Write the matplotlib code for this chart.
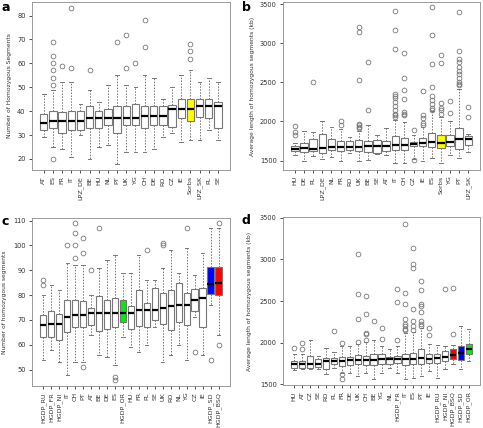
#!/usr/bin/env python3
# -*- coding: utf-8 -*-

import matplotlib
matplotlib.use('Agg')
import matplotlib.pyplot as plt

# ---- panel a: number of homozygous segments ----
a_names = ['AT', 'ES', 'FR', 'IT', 'LPZ_DE', 'BE', 'HU', 'NL', 'PT', 'UK',
           'YG', 'CH', 'DE', 'RO', 'CZ', 'IE', 'Sorbs', 'LPZ_SK', 'PL', 'SE']
a_lo = [29, 25, 24, 21, 30, 20, 25, 26, 18, 23, 23, 23, 24, 29, 31, 27, 28, 28, 32, 28]
a_q1 = [32, 33, 31, 32, 32, 33, 33, 34, 31, 34, 34, 33, 34, 34, 33.5, 37, 36, 37.5, 37, 33]
a_med = [35, 36, 36, 36, 36, 37, 37, 37, 37, 37, 37, 38, 38, 38, 41, 41, 41, 42, 42, 42]
a_q3 = [39, 40, 39.5, 40, 40, 42, 40, 41, 42, 42, 43, 42, 42, 42, 42.5, 45, 45, 45, 45, 44]
a_hi = [47, 49, 52, 52, 43, 49, 44, 51, 55, 51, 50, 55, 54, 45, 50, 55, 57, 52, 54, 52]
a_out = [[], [20, 51, 54, 57, 60, 63, 69], [59], [58, 83], [], [57], [], [], [69],
         [58, 72], [60], [67, 78], [], [], [], [], [62, 65, 68], [], [], []]

# ---- panel b: average length of homozygous segments (kb) ----
b_names = ['HU', 'DE', 'PL', 'LPZ_DE', 'NL', 'FR', 'RO', 'UK', 'BE', 'SE',
           'AT', 'IT', 'CH', 'CZ', 'IE', 'ES', 'Sorbs', 'YG', 'PT', 'LPZ_SK']
b_lo = [1570, 1500, 1560, 1520, 1540, 1490, 1600, 1490, 1510, 1580,
        1570, 1470, 1470, 1520, 1500, 1530, 1470, 1570, 1530, 1610]
b_q1 = [1620, 1610, 1620, 1590, 1630, 1620, 1630, 1620, 1610, 1590,
        1620, 1630, 1640, 1680, 1680, 1670, 1660, 1680, 1650, 1700]
b_med = [1650, 1660, 1650, 1660, 1670, 1670, 1670, 1670, 1680, 1680,
         1690, 1700, 1700, 1710, 1720, 1740, 1730, 1740, 1770, 1770]
b_q3 = [1690, 1730, 1770, 1840, 1770, 1750, 1750, 1760, 1750, 1760,
        1750, 1810, 1790, 1740, 1790, 1850, 1830, 1830, 1920, 1810]
b_hi = [1730, 1880, 1870, 2010, 1930, 1900, 1800, 1880, 1950, 1830,
        1920, 2020, 1990, 1830, 1930, 2130, 2060, 2000, 2420, 1840]
b_out = [[1830, 1860, 1940], [], [2510], [], [], [1950, 2000], [],
         [1910, 1930, 1950, 1970, 2530, 3140, 3210], [2140, 2760], [], [],
         [2060, 2080, 2100, 2150, 2200, 2250, 2300, 2330, 2350, 2920, 3170, 3410],
         [2080, 2100, 2120, 2290, 2400, 2550, 2870], [1510, 1890],
         [1960, 1980, 2050, 2080, 2390],
         [2150, 2170, 2220, 2280, 2330, 2440, 2740, 3110, 3460],
         [2100, 2140, 2170, 2240, 2750, 2850], [2110, 2260],
         [2460, 2480, 2500, 2550, 2600, 2650, 2700, 2760, 2800, 2900, 3400],
         [2060, 2190]]

# ---- panel c: number of homozygous segments, with HGDP ----
c_names = ['HGDP_RU', 'HGDP_FR', 'HGDP_NI', 'IT', 'CH', 'PT', 'AT', 'BE', 'DE',
           'ES', 'HGDP_OR', 'HU', 'FR', 'PL', 'SE', 'UK', 'RO', 'NL', 'YG', 'CZ',
           'IE', 'HGDP_SD', 'HGDP_BSQ']
c_lo = [54, 58, 53, 48, 53, 53, 64, 56, 55, 52, 63, 59, 57, 60, 67, 53, 56,
        60, 54, 71, 56, 76, 64]
c_q1 = [63, 63, 62, 65, 67, 67, 68, 65.5, 66.5, 67, 69, 66.5, 67.5, 67, 70,
        68.5, 66, 69, 68, 73.5, 67, 80.5, 80]
c_med = [68, 68.5, 68.5, 71, 72, 72, 73, 73, 73, 73, 73, 73, 74, 74, 74, 75,
         75.5, 76, 76, 78, 79, 84.5, 85]
c_q3 = [72, 73.5, 72.5, 78, 78, 77.5, 75, 79.5, 78, 79, 78, 75.5, 82, 77, 83,
        81, 82, 85, 81, 82.5, 83, 91.5, 91.5]
c_hi = [80, 84, 82, 93, 92, 92, 80, 91, 94, 96, 89, 89, 96, 86, 86, 91, 98,
        89, 99, 88, 97, 107, 107]
c_out = [[84, 86], [], [], [100], [95, 100, 105, 109], [51, 97, 103], [90],
         [107], [], [46, 47], [], [], [], [98], [], [100, 101], [], [], [107],
         [57], [], [54], [60, 109]]

# ---- panel d: average length (kb), with HGDP ----
d_names = ['HU', 'AT', 'CZ', 'SE', 'RO', 'PL', 'FR', 'DE', 'UK', 'CH', 'BE',
           'YG', 'NL', 'HGDP_FR', 'IT', 'ES', 'PT', 'IE', 'HGDP_RU', 'HGDP_NI',
           'HGDP_BSQ', 'HGDP_SD', 'HGDP_OR']
d_lo = [1670, 1680, 1680, 1680, 1630, 1700, 1640, 1640, 1600, 1640, 1560,
        1640, 1700, 1640, 1570, 1580, 1600, 1660, 1580, 1680, 1750, 1690, 1780]
d_q1 = [1700, 1700, 1700, 1710, 1680, 1740, 1720, 1730, 1740, 1730, 1730,
        1750, 1740, 1760, 1730, 1740, 1750, 1760, 1760, 1780, 1810, 1790, 1860]
d_med = [1740, 1740, 1750, 1750, 1780, 1780, 1780, 1790, 1790, 1790, 1790,
         1800, 1800, 1800, 1800, 1810, 1820, 1810, 1820, 1830, 1850, 1880, 1920]
d_q3 = [1780, 1780, 1840, 1800, 1820, 1820, 1830, 1830, 1850, 1840, 1860,
        1860, 1830, 1840, 1870, 1880, 1920, 1870, 1860, 1900, 1920, 1960, 1990]
d_hi = [1860, 1860, 2030, 1840, 1940, 1890, 1960, 1960, 1990, 2010, 2030,
        1960, 1930, 1960, 2120, 2130, 2180, 1990, 1970, 1960, 1970, 2200, 2160]
d_out = [[1940], [1930, 2000], [], [], [], [2140], [1570, 1620, 2000], [],
         [2010, 2290, 2580, 3070], [2030, 2100, 2120, 2340, 2560], [2260],
         [2040, 2180], [], [2030, 2490, 2640],
         [2150, 2170, 2200, 2220, 2280, 2470, 2600, 3420],
         [2150, 2200, 2260, 2410, 2900, 2940, 3140],
         [2200, 2220, 2260, 2370, 2440, 2460, 2630, 2740],
         [2090, 2180], [], [2640], [2110, 2660], [], []]

highlight = {'Sorbs': '#ffff00', 'HGDP_OR': '#00ee00',
             'HGDP_SD': '#0000ff', 'HGDP_BSQ': '#ff0000'}

GREY = '#777777'
TXT = '#333333'


def draw_panel(ax, names, lo, q1, med, q3, hi, out, ylim, yticks, ylabel, labx):
    stats = []
    for i in range(len(names)):
        stats.append(dict(whislo=lo[i], q1=q1[i], med=med[i], q3=q3[i],
                          whishi=hi[i], fliers=out[i], label=names[i]))
    pos = list(range(1, len(names) + 1))
    bp = ax.bxp(stats, positions=pos, widths=0.8, patch_artist=True,
                showfliers=True,
                boxprops=dict(edgecolor=GREY, linewidth=0.8),
                medianprops=dict(color='black', linewidth=1.6),
                whiskerprops=dict(color=GREY, linewidth=0.7, linestyle=(0, (1.5, 1.5))),
                capprops=dict(color=GREY, linewidth=0.7),
                flierprops=dict(marker='o', markersize=3.4, markerfacecolor='none',
                                markeredgecolor=GREY, markeredgewidth=0.6))
    for b, nm in zip(bp['boxes'], names):
        b.set_facecolor(highlight.get(nm, 'white'))
    for c in bp['caps']:
        x = c.get_xdata()
        mid = (x[0] + x[1]) / 2
        c.set_xdata([mid - 0.2, mid + 0.2])
    n = len(names)
    ax.set_xlim(0.5 - 0.04 * n, n + 0.5 + 0.04 * n)
    ax.set_ylim(*ylim)
    ax.set_yticks(yticks)
    ax.set_xticks(pos)
    ax.set_xticklabels(names, rotation=90, fontsize=4.6, color=TXT)
    ax.tick_params(axis='y', labelsize=4.8, colors=TXT, length=2.5, width=0.6, pad=2)
    ax.tick_params(axis='x', length=2.5, width=0.6, colors=TXT, pad=2)
    ax.set_ylabel(ylabel, fontsize=4.3, color=TXT)
    ax.yaxis.set_label_coords(labx, 0.5)
    for s in ax.spines.values():
        s.set_color('#999999')
        s.set_linewidth(0.7)


def main():
    fig = plt.figure(figsize=(4.83, 4.28), dpi=100)
    ax_a = fig.add_axes([0.066, 0.603, 0.410, 0.392])
    ax_b = fig.add_axes([0.586, 0.603, 0.408, 0.392])
    ax_c = fig.add_axes([0.066, 0.098, 0.410, 0.393])
    ax_d = fig.add_axes([0.586, 0.100, 0.408, 0.393])

    draw_panel(ax_a, a_names, a_lo, a_q1, a_med, a_q3, a_hi, a_out,
               (15.4, 85.6), range(20, 81, 10),
               'Number of Homozygous Segments', -0.10)
    draw_panel(ax_b, b_names, b_lo, b_q1, b_med, b_q3, b_hi, b_out,
               (1380, 3525), range(1500, 3501, 500),
               'Average length of homozygous segments (kb)', -0.14)
    draw_panel(ax_c, c_names, c_lo, c_q1, c_med, c_q3, c_hi, c_out,
               (43.4, 111.1), range(50, 111, 10),
               'Number of homozygous segments', -0.125)
    draw_panel(ax_d, d_names, d_lo, d_q1, d_med, d_q3, d_hi, d_out,
               (1490, 3510), range(1500, 3501, 500),
               'Average length of homozygous segments (kb)', -0.16)

    for letter, px, py in [('a', 2, 1), ('b', 242, 1), ('c', 2, 215), ('d', 242, 214)]:
        fig.text(px / 483, 1 - py / 428, letter, fontsize=9, fontweight='bold',
                 va='top', ha='left')

    fig.savefig('out.png', dpi=100)


if __name__ == '__main__':
    main()
